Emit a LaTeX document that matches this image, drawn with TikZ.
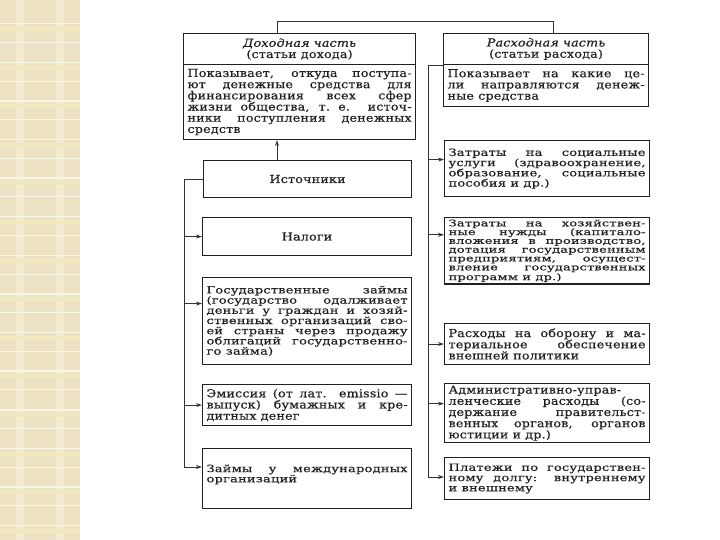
\documentclass[tikz,border=0pt]{standalone}
\usepackage{fontspec}
\setmainfont{DejaVu Serif}[FakeStretch=1.15, LetterSpace=2, FakeBold=0.6]
\newfontfamily\wideB{DejaVu Serif}[FakeStretch=1.3, LetterSpace=2, FakeBold=0.6]
\newfontfamily\wideC{DejaVu Serif}[FakeStretch=1.45, LetterSpace=2, FakeBold=0.6]
\usetikzlibrary{arrows.meta}
\definecolor{ink}{gray}{0.13}
\definecolor{lineink}{gray}{0.2}
\definecolor{stripbase}{RGB}{237,225,196}
\definecolor{stripwhite}{RGB}{250,246,228}
\definecolor{stripyel}{RGB}{240,233,192}
\definecolor{stripcol}{RGB}{243,234,210}
\hyphenpenalty=10000\relax
\exhyphenpenalty=10000\relax
\begin{document}
\begin{tikzpicture}[x=1pt,y=-1pt,
  bx/.style n args={4}{draw=ink, line width=1.1pt, anchor=north west, at={(#1,#2)},
    minimum width=#3pt, minimum height=#4pt, inner xsep=4pt, inner ysep=2pt,
    text=ink, align=justify},
  fA/.style={font=\fontsize{11}{11.2}\selectfont},
  fB/.style={font=\wideB\fontsize{10}{10.2}\selectfont},
  fC/.style={font=\wideC\fontsize{9}{8.8}\selectfont},
  cen/.style={align=center},
  conn/.style={draw=lineink, line width=1pt},
  arr/.style={conn, -{Stealth[length=6pt,width=4pt]}}]
\useasboundingbox (0,0) rectangle (720,540);
\fill[white] (0,0) rectangle (720,540);
% decorative strip
\fill[stripbase] (0,0) rectangle (80,540);
\fill[stripcol] (16,0) rectangle (24,540);
\fill[stripcol] (56,0) rectangle (64,540);
\foreach \k in {0,...,13}{
  \fill[stripwhite] (0,{23+38.6*\k}) rectangle (80,{24.5+38.6*\k});
  \fill[stripyel] (0,{27+38.6*\k}) rectangle (80,{31+38.6*\k});
  \fill[stripwhite] (0,{42+38.6*\k}) rectangle (80,{43+38.6*\k});
}
% headers
\node[bx={183}{33}{232}{31}, cen, fA] (lhead) {{\itshape Доходная часть}\\(статьи дохода)};
\node[bx={443}{33}{205}{31}, cen, fA] (rhead) {{\itshape Расходная часть}\\(статьи расхода)};
% descriptions
\node[bx={183}{64}{232}{75}, fA, text width=224pt] (ldesc) {Показывает, откуда поступа-\linebreak ют денежные средства для\linebreak финансирования всех сфер\linebreak жизни общества, т.~е. источ-\linebreak ники поступления денежных\linebreak средств};
\node[bx={443}{64}{205}{42}, fA, text width=197pt] (rdesc) {Показывает на какие це-\linebreak ли направляются денеж-\linebreak ные средства};
% left column
\node[bx={203}{160}{208}{37}, cen, fA] (ist) {Источники};
\node[bx={202}{217}{209}{38}, cen, fA] (nal) {Налоги};
\node[bx={202}{277}{209}{87}, fB, text width=201pt] (gos) {Государственные займы\linebreak (государство одалживает\linebreak деньги у граждан и хозяй-\linebreak ственных организаций сво-\linebreak ей страны через продажу\linebreak облигаций государственно-\linebreak го займа)};
\node[bx={202}{384}{209}{41}, fA, text width=201pt] (emi) {Эмиссия (от лат. emissio —\linebreak выпуск) бумажных и кре-\linebreak дитных денег};
\node[bx={202}{448}{209}{60}, fB, text width=201pt] (zaim) {Займы у международных\linebreak организаций\\\mbox{}};
% right column
\node[bx={444}{140}{205}{56}, fB, text width=197pt] (soc) {Затраты на социальные\linebreak услуги (здравоохранение,\linebreak образование, социальные\linebreak пособия и др.)};
\node[bx={444}{217}{205}{64}, fC, text width=197pt] (hoz) {Затраты на хозяйствен-\linebreak ные нужды (капитало-\linebreak вложения в производство,\linebreak дотация государственным\linebreak предприятиям, осущест-\linebreak вление государственных\linebreak программ и др.)};
\node[bx={444}{323}{205}{41}, fA, text width=197pt] (obo) {Расходы на оборону и ма-\linebreak териальное обеспечение\linebreak внешней политики};
\node[bx={444}{383}{205}{57}, fA, text width=197pt] (adm) {Административно-управ-\linebreak ленческие расходы (со-\linebreak держание правительст-\linebreak венных органов, органов\linebreak юстиции и др.)};
\node[bx={444}{457}{205}{42}, fB, text width=197pt] (plat) {Платежи по государствен-\linebreak ному долгу: внутреннему\linebreak и внешнему};
% top link
\draw[conn] ([xshift=94pt]lhead.north west) -- ++(0,-11) -| ([xshift=110pt]rhead.north west);
% sources -> description
\draw[arr] ([xshift=74pt]ist.north west) -- ([xshift=94pt]ldesc.south west);
% left bus
\coordinate (lbus) at (184,467);
\draw[conn] (ist.west) -| (lbus);
\draw[arr] (lbus) -- (lbus -| zaim.west);
\draw[arr] (nal.west -| lbus) -- (nal.west);
\draw[arr] ([yshift=17.5pt]gos.west -| lbus) -- ([yshift=17.5pt]gos.west);
\draw[arr] (emi.west -| lbus) -- (emi.west);
% right bus
\coordinate (rbus) at (428,477);
\draw[conn] (rhead.south west) -| (rbus);
\draw[arr] (rbus) -- (rbus -| plat.west);
\draw[arr] ([yshift=9pt]soc.west -| rbus) -- ([yshift=9pt]soc.west);
\draw[arr] ([yshift=16pt]hoz.west -| rbus) -- ([yshift=16pt]hoz.west);
\draw[arr] (obo.west -| rbus) -- (obo.west);
\draw[arr] ([yshift=9.5pt]adm.west -| rbus) -- ([yshift=9.5pt]adm.west);
\end{tikzpicture}
\end{document}
